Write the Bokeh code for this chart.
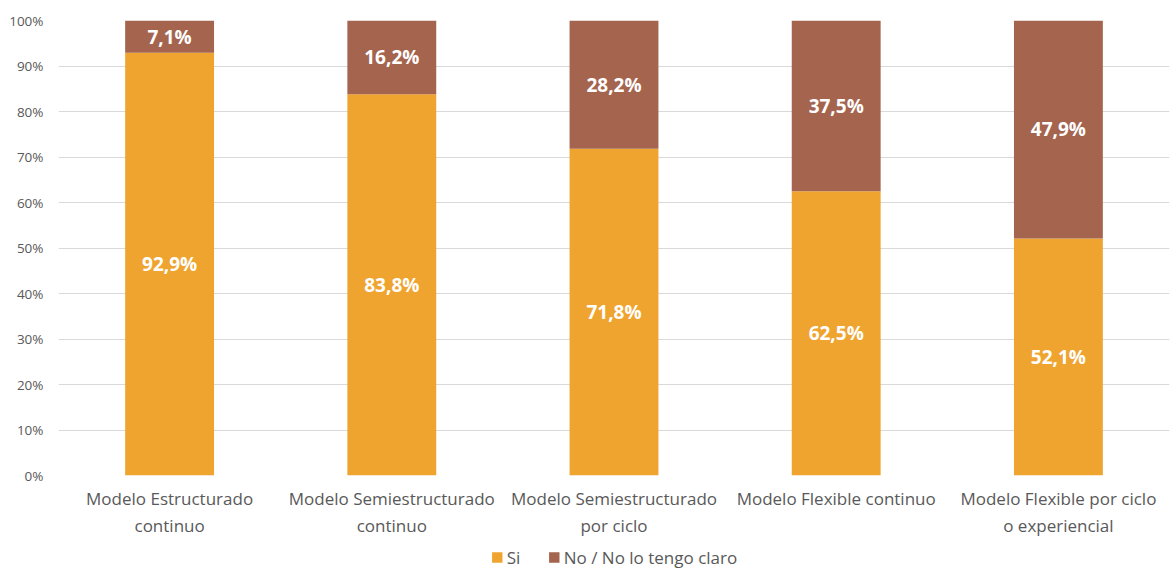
from bokeh.plotting import figure
from bokeh.layouts import column
from bokeh.models import ColumnDataSource, FactorRange, FixedTicker, Legend, LegendItem
from bokeh.core.properties import value
from bokeh.embed import file_html
from bokeh.resources import INLINE

categories = ["Modelo Estructurado\ncontinuo", "Modelo Semiestructurado\ncontinuo",
              "Modelo Semiestructurado\npor ciclo", "Modelo Flexible continuo",
              "Modelo Flexible por ciclo\no experiencial"]
si = [92.9, 83.8, 71.8, 62.5, 52.1]
no = [7.1, 16.2, 28.2, 37.5, 47.9]
series_names = ["Si", "No / No lo tengo claro"]
y_ticks = [0, 10, 20, 30, 40, 50, 60, 70, 80, 90, 100]
y_tick_labels = ["0%", "10%", "20%", "30%", "40%", "50%", "60%", "70%", "80%", "90%", "100%"]

ORANGE = "#F0A430"
BROWN = "#A5644E"
FONT = "Open Sans"
GREY = "#595959"

src = ColumnDataSource(dict(cat=categories, si=si, no=no))

p = figure(x_range=FactorRange(*categories), y_range=(0, 100),
           width=1170, height=545, output_backend="svg", toolbar_location=None,
           min_border_left=58, min_border_top=20, min_border_right=1,
           min_border_bottom=70,
           outline_line_color=None, background_fill_color="white")

r = p.vbar_stack(["si", "no"], x="cat", width=0.4, source=src,
                 color=[ORANGE, BROWN], line_color=None)

lbl_x = categories + categories
lbl_y = [v / 2 for v in si] + [s + n / 2 for s, n in zip(si, no)]
lbl_t = [f"{v:.1f}%".replace(".", ",") for v in si] + [f"{v:.1f}%".replace(".", ",") for v in no]
p.text(x=lbl_x, y=lbl_y, text=lbl_t, text_align="center", text_baseline="middle",
       text_color="white", text_font=value(FONT), text_font_style="bold",
       text_font_size="19px")

p.yaxis.ticker = FixedTicker(ticks=y_ticks)
p.yaxis.major_label_overrides = {t: l for t, l in zip(y_ticks, y_tick_labels)}
p.yaxis.axis_line_color = None
p.yaxis.major_tick_line_color = None
p.yaxis.minor_tick_line_color = None
p.yaxis.major_label_text_font = FONT
p.yaxis.major_label_text_font_size = "13.5px"
p.yaxis.major_label_text_color = GREY
p.yaxis.major_label_standoff = 9

p.xaxis.axis_line_color = None
p.xaxis.major_tick_line_color = None
p.xaxis.major_label_text_font = FONT
p.xaxis.major_label_text_font_size = "17px"
p.xaxis.major_label_text_color = GREY
p.xaxis.major_label_standoff = 5

p.xgrid.grid_line_color = None
p.ygrid.grid_line_color = "#d9d9d9"
p.ygrid.grid_line_width = 1

# legend strip below the chart (bars drawn out of view, only legend shows)
lg = figure(width=1170, height=24, output_backend="svg", toolbar_location=None,
            x_range=FactorRange(*categories), y_range=(1000, 1001), min_border=0,
            outline_line_color=None)
lg.axis.visible = False
lg.grid.visible = False
lr = lg.vbar_stack(["si", "no"], x="cat", width=0.4, source=src,
                   color=[ORANGE, BROWN], line_color=None)
legend = Legend(items=[LegendItem(label=series_names[0], renderers=[lr[0]]),
                       LegendItem(label=series_names[1], renderers=[lr[1]])],
                orientation="horizontal", location="center",
                label_text_font=FONT, label_text_font_size="17px",
                label_text_color=GREY, border_line_color=None,
                background_fill_alpha=0,
                glyph_width=13, glyph_height=13, spacing=20, label_standoff=4,
                padding=0, margin=0)
lg.add_layout(legend)

layout = column(p, lg, spacing=0)
open("out.html", "w").write(file_html(layout, INLINE))
